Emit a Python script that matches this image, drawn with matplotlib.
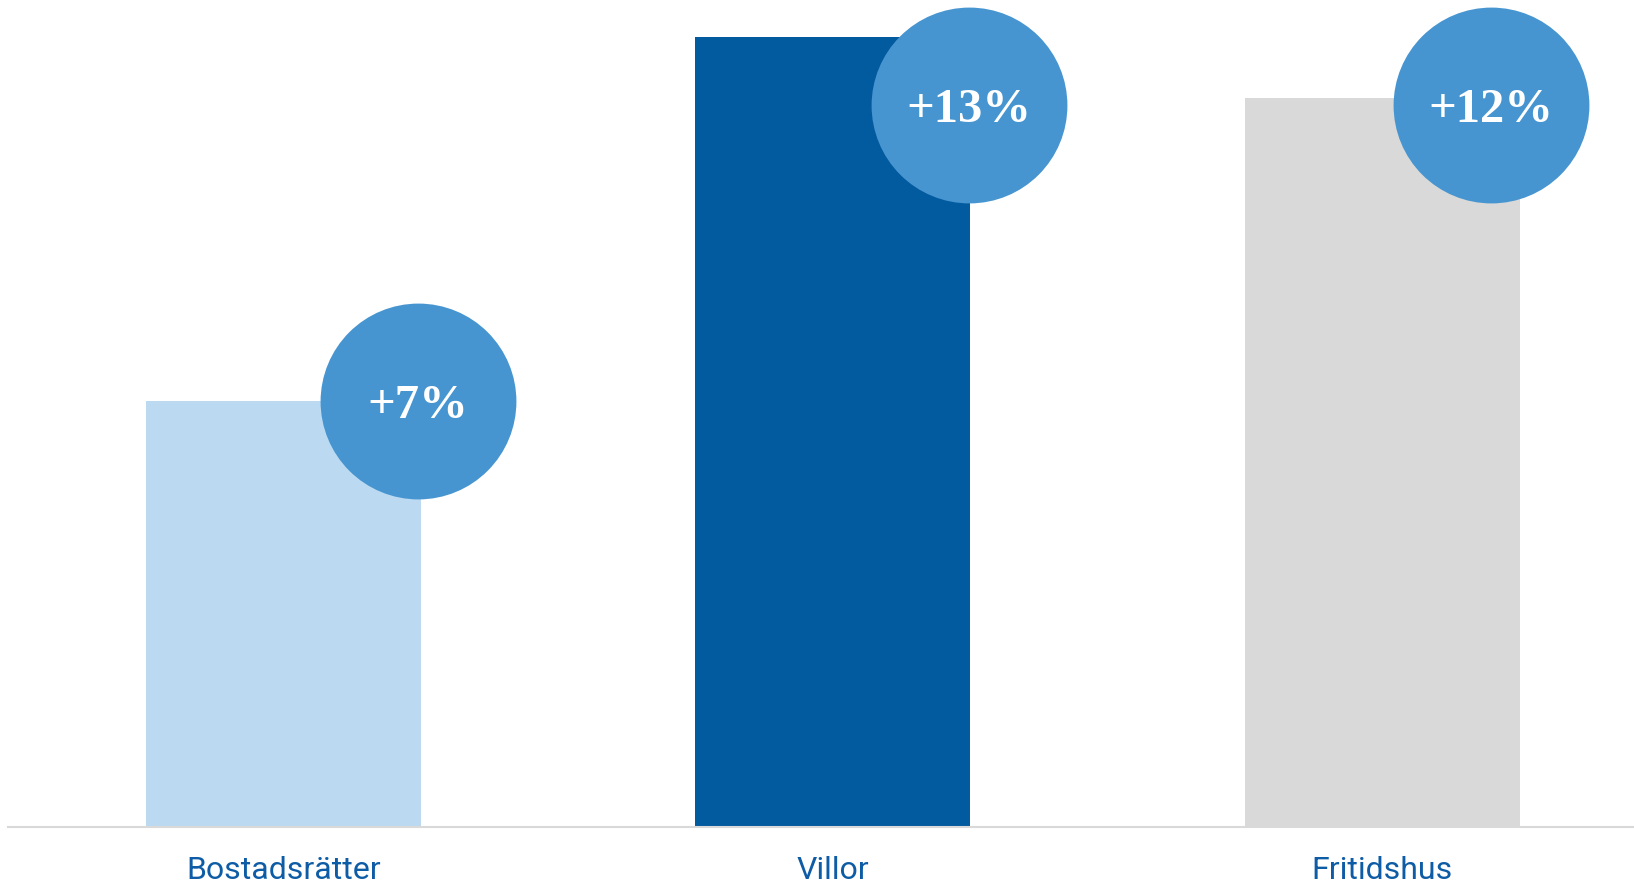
import matplotlib
matplotlib.use("Agg")
import matplotlib.pyplot as plt

categories = ["Bostadsrätter", "Villor", "Fritidshus"]
values = [42.6, 79.0, 72.9]
changes = ["+7%", "+13%", "+12%"]

bar_colors = ["#bbdaf2", "#025a9f", "#d9d9d9"]
circle_color = "#4695d0"
label_color = "#0d5ca5"

fig = plt.figure(figsize=(16.34, 8.86), dpi=100)
ax = fig.add_axes([8/1634, 1 - 827/886, 1 - 8/1634, 827/886])
x = list(range(len(categories)))
width = 0.5
ax.bar(x, values, width=width, color=bar_colors, zorder=2)
ax.set_xlim(-0.501, 2.458)
ax.set_ylim(0, 82.7)

cap = 72.2
dx = [-0.005, -0.002, -0.053]
for i, (v, c) in enumerate(zip(values, changes)):
    cx = i + width / 2 + dx[i]
    cy = min(v, cap)
    ax.scatter([cx], [cy], s=141**2, color=circle_color, zorder=3, linewidths=0, clip_on=False)
    ax.text(cx, cy, c, ha="center", va="center_baseline", color="white", fontsize=35,
            fontweight="bold", family="Liberation Serif", zorder=4)

ax.set_xticks(x)
ax.set_xticklabels(categories, color=label_color, fontsize=23, family="Roboto")
ax.tick_params(axis="x", length=0, pad=21)
ax.set_yticks([])
for s in ["top", "right", "left"]:
    ax.spines[s].set_visible(False)
ax.spines["bottom"].set_color("#d9d9d9")
ax.spines["bottom"].set_linewidth(1.5)

fig.savefig("out.png", dpi=100)
